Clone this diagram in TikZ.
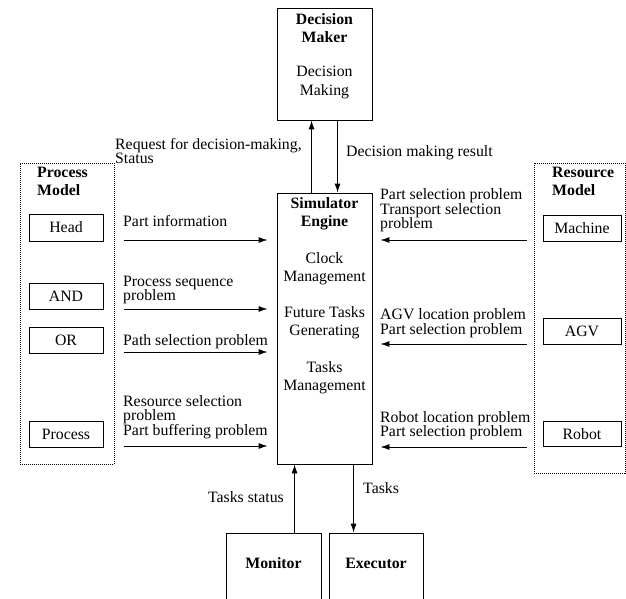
\documentclass[tikz,border=0pt]{standalone}
\usepackage{fontspec}
\setmainfont{Liberation Serif}
\usetikzlibrary{arrows.meta}
\begin{document}
\begin{tikzpicture}[x=1pt,y=-1pt,
  every node/.style={font=\fontsize{15.8}{14.5}\selectfont, inner sep=0pt},
  box/.style={draw, line width=0.9pt},
  grp/.style={draw, line width=1pt, densely dotted},
  lbl/.style={anchor=west, align=left},
  head/.style={align=center, font=\fontsize{15.8}{17.5}\selectfont\bfseries},
  inner/.style={align=center, font=\fontsize{15.8}{18.5}\selectfont},
  arr/.style={line width=0.9pt, -{Latex[length=9pt,width=6pt]}}
]
\useasboundingbox (0,0) rectangle (626,599);
% main boxes
\node[box, minimum width=95pt, minimum height=112pt] (dm) at (324.5,64) {};
\node[box, minimum width=95pt, minimum height=271pt] (sim) at (324.5,328.5) {};
\node[box, minimum width=95pt, minimum height=90pt] (mon) at (273.5,578) {};
\node[box, minimum width=94pt, minimum height=90pt] (exe) at (376,578) {};
% group boxes
\node[grp, minimum width=94pt, minimum height=301pt] (pm) at (67,313.5) {};
\node[grp, minimum width=91pt, minimum height=310pt] (rm) at (579.5,318) {};
% texts in main boxes
\node[head] (dmh) at (324.5,28) {Decision\\Maker};
\node[inner] (dmt) at (324.5,82.5) {Decision\\Making};
\node[head] (simh) at (324.5,214) {Simulator\\Engine};
\node[inner] (sim1) at (324.5,268.5) {Clock\\Management};
\node[inner] (sim2) at (324.5,322.5) {Future Tasks\\Generating};
\node[inner] (sim3) at (324.5,377.5) {Tasks\\Management};
\node[font=\fontsize{15.8}{17.5}\selectfont\bfseries] (mont) at (273.5,563) {Monitor};
\node[font=\fontsize{15.8}{17.5}\selectfont\bfseries] (exet) at (376,563) {Executor};
% group headings
\node[head, anchor=west, align=left] (pmh) at (37,181.5) {Process\\Model};
\node[head, anchor=west, align=left] (rmh) at (552,181.5) {Resource\\Model};
% small boxes
\node[box, minimum width=74pt, minimum height=27pt] (hd) at (66,227.5) {Head};
\node[box, minimum width=74pt, minimum height=26pt] (and) at (66,296) {AND};
\node[box, minimum width=74pt, minimum height=26pt] (or) at (66,340) {OR};
\node[box, minimum width=74pt, minimum height=26pt] (proc) at (66,434) {Process};
\node[box, minimum width=78pt, minimum height=26pt] (mach) at (582,228) {Machine};
\node[box, minimum width=78pt, minimum height=26pt] (agv) at (582,331) {AGV};
\node[box, minimum width=78pt, minimum height=25pt] (rob) at (582,434) {Robot};
% top connectors
\draw[arr] ([xshift=35pt]sim.north west) -- ([xshift=35pt]dm.south west);
\draw[arr] ([xshift=61pt]dm.south west) -- ([xshift=61pt]sim.north west);
\node[lbl] (req) at (115,151) {Request for decision-making,\\Status};
\node[lbl] (res) at (346,153) {Decision making result};
% bottom connectors
\draw[arr] ([xshift=69pt]mon.north west) -- ([xshift=18pt]sim.south west);
\draw[arr] ([xshift=77pt]sim.south west) -- ([xshift=25pt]exe.north west);
\node[anchor=east] (ts) at (284,497) {Tasks status};
\node[lbl] (tk) at (363,488) {Tasks};
% left connectors
\draw[arr, shorten <=9pt, shorten >=9pt] (pm.east |- 0,240) -- (sim.west |- 0,240);
\draw[arr, shorten <=9pt, shorten >=9pt] (pm.east |- 0,309) -- (sim.west |- 0,309);
\draw[arr, shorten <=9pt, shorten >=9pt] (pm.east |- 0,352) -- (sim.west |- 0,352);
\draw[arr, shorten <=9pt, shorten >=9pt] (pm.east |- 0,446) -- (sim.west |- 0,446);
\node[lbl] (l1) at (123,221) {Part information};
\node[lbl] (l2) at (123,290) {Process sequence\\problem};
\node[lbl] (l3) at (123,342) {Path selection problem};
\node[lbl] (l4) at (123,417) {Resource selection\\problem\\Part buffering problem};
% right connectors
\draw[arr, shorten <=7pt, shorten >=8pt] (rm.west |- 0,240) -- (sim.east |- 0,240);
\draw[arr, shorten <=7pt, shorten >=8pt] (rm.west |- 0,344) -- (sim.east |- 0,344);
\draw[arr, shorten <=7pt, shorten >=8pt] (rm.west |- 0,447) -- (sim.east |- 0,447);
\node[lbl] (r1) at (380,210.5) {Part selection problem\\Transport selection\\problem};
\node[lbl] (r2) at (380,323) {AGV location problem\\Part selection problem};
\node[lbl] (r3) at (380,425.5) {Robot location problem\\Part selection problem};
\end{tikzpicture}
\end{document}
